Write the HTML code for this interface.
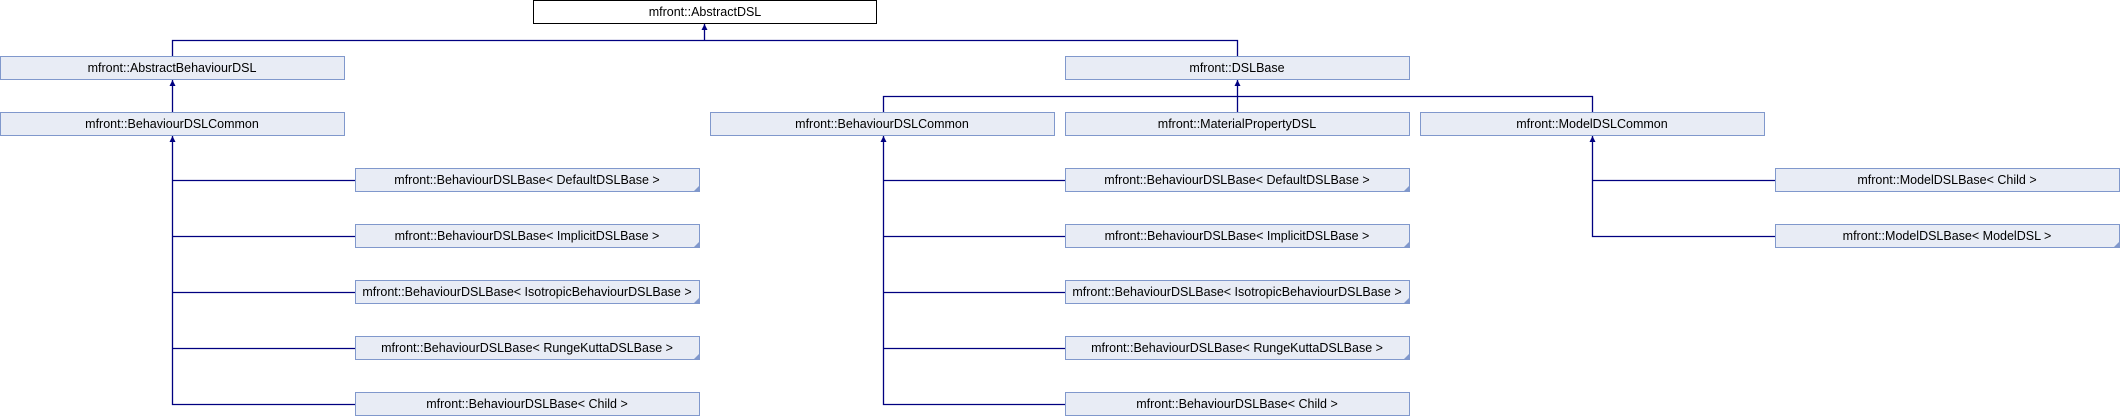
<!DOCTYPE html>
<html><head><meta charset="utf-8"><style>
html,body{margin:0;padding:0;background:#fff;}
svg{display:block}
text{font-family:"Liberation Sans",Arial,sans-serif;font-size:12.5px;fill:#000;text-anchor:middle}
</style></head><body>
<svg width="2120" height="416" xmlns="http://www.w3.org/2000/svg">
<g stroke="#000080" stroke-width="1.3" fill="none">
<path d="M704.5,24 V40.5 H172.5 V56 M704.5,40.5 H1237.5 V56"/>
<path d="M172.5,80 V112"/>
<path d="M1237.5,80 V112 M883.5,112 V96.5 H1592.5 V112"/>
<path d="M172.5,136 V404.5 H355 M172.5,180.5 H355 M172.5,236.5 H355 M172.5,292.5 H355 M172.5,348.5 H355"/>
<path d="M883.5,136 V404.5 H1065 M883.5,180.5 H1065 M883.5,236.5 H1065 M883.5,292.5 H1065 M883.5,348.5 H1065"/>
<path d="M1592.5,136 V236.5 H1775 M1592.5,180.5 H1775"/>
</g>
<g fill="#000080">
<path d="M704.5,24 l-3,6 h6 z"/>
<path d="M172.5,80 l-3,6 h6 z"/>
<path d="M1237.5,80 l-3,6 h6 z"/>
<path d="M172.5,136 l-3,6 h6 z"/>
<path d="M883.5,136 l-3,6 h6 z"/>
<path d="M1592.5,136 l-3,6 h6 z"/>
</g>
<rect x="533.5" y="0.5" width="343" height="23" fill="#fff" stroke="#000"/>
<text x="705" y="16">mfront::AbstractDSL</text>
<g fill="#e8ecf5" stroke="#8098cc">
<rect x="0.5" y="56.5" width="344" height="23"/>
<rect x="1065.5" y="56.5" width="344" height="23"/>
<rect x="0.5" y="112.5" width="344" height="23"/>
<rect x="710.5" y="112.5" width="344" height="23"/>
<rect x="1065.5" y="112.5" width="344" height="23"/>
<rect x="1420.5" y="112.5" width="344" height="23"/>
<rect x="355.5" y="168.5" width="344" height="23"/>
<rect x="355.5" y="224.5" width="344" height="23"/>
<rect x="355.5" y="280.5" width="344" height="23"/>
<rect x="355.5" y="336.5" width="344" height="23"/>
<rect x="355.5" y="392.5" width="344" height="23"/>
<rect x="1065.5" y="168.5" width="344" height="23"/>
<rect x="1065.5" y="224.5" width="344" height="23"/>
<rect x="1065.5" y="280.5" width="344" height="23"/>
<rect x="1065.5" y="336.5" width="344" height="23"/>
<rect x="1065.5" y="392.5" width="344" height="23"/>
<rect x="1775.5" y="168.5" width="344" height="23"/>
<rect x="1775.5" y="224.5" width="344" height="23"/>
</g>
<g fill="#8098cc">
<path d="M699,186 v5 h-5 z"/><path d="M699,242 v5 h-5 z"/><path d="M699,298 v5 h-5 z"/><path d="M699,354 v5 h-5 z"/>
<path d="M1409,186 v5 h-5 z"/><path d="M1409,242 v5 h-5 z"/><path d="M1409,298 v5 h-5 z"/><path d="M1409,354 v5 h-5 z"/>
<path d="M2119,242 v5 h-5 z"/>
</g>
<text x="172" y="72">mfront::AbstractBehaviourDSL</text>
<text x="1237" y="72">mfront::DSLBase</text>
<text x="172" y="128">mfront::BehaviourDSLCommon</text>
<text x="882" y="128">mfront::BehaviourDSLCommon</text>
<text x="1237" y="128">mfront::MaterialPropertyDSL</text>
<text x="1592" y="128">mfront::ModelDSLCommon</text>
<text x="527" y="184">mfront::BehaviourDSLBase&lt; DefaultDSLBase &gt;</text>
<text x="527" y="240">mfront::BehaviourDSLBase&lt; ImplicitDSLBase &gt;</text>
<text x="527" y="296">mfront::BehaviourDSLBase&lt; IsotropicBehaviourDSLBase &gt;</text>
<text x="527" y="352">mfront::BehaviourDSLBase&lt; RungeKuttaDSLBase &gt;</text>
<text x="527" y="408">mfront::BehaviourDSLBase&lt; Child &gt;</text>
<text x="1237" y="184">mfront::BehaviourDSLBase&lt; DefaultDSLBase &gt;</text>
<text x="1237" y="240">mfront::BehaviourDSLBase&lt; ImplicitDSLBase &gt;</text>
<text x="1237" y="296">mfront::BehaviourDSLBase&lt; IsotropicBehaviourDSLBase &gt;</text>
<text x="1237" y="352">mfront::BehaviourDSLBase&lt; RungeKuttaDSLBase &gt;</text>
<text x="1237" y="408">mfront::BehaviourDSLBase&lt; Child &gt;</text>
<text x="1947" y="184">mfront::ModelDSLBase&lt; Child &gt;</text>
<text x="1947" y="240">mfront::ModelDSLBase&lt; ModelDSL &gt;</text>
</svg>
</body></html>
